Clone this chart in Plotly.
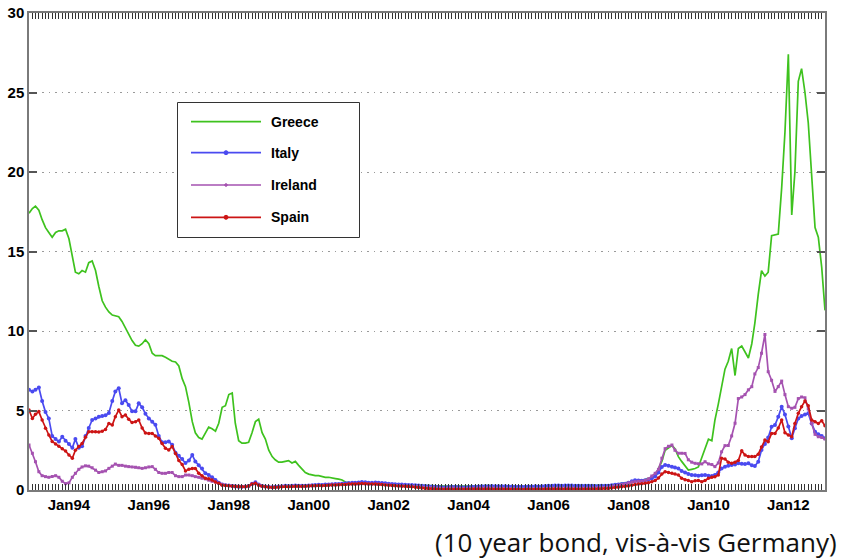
import pandas as pd
import plotly.graph_objects as go

# Monthly observations, Jan 1993 .. Dec 2012 (10y spread vs Germany, pct points)
months = pd.date_range("1993-01-01", periods=240, freq="MS")

greece = [
    17.4, 17.7, 17.85, 17.6, 17.0, 16.5, 16.2, 15.9, 16.2, 16.3, 16.3, 16.4,
    15.8, 14.8, 13.7, 13.6, 13.8, 13.7, 14.3, 14.4, 13.8, 12.8, 11.9, 11.5,
    11.2, 11.0, 10.95, 10.9, 10.6, 10.2, 9.8, 9.4, 9.1, 9.05, 9.2, 9.45,
    9.2, 8.6, 8.45, 8.45, 8.45, 8.35, 8.2, 8.1, 8.05, 7.8, 7.0, 6.5,
    5.5, 4.3, 3.6, 3.3, 3.2, 3.6, 3.95, 3.85, 3.7, 4.2, 5.2, 5.3,
    6.0, 6.1, 4.2, 3.1, 2.95, 2.95, 3.0, 3.6, 4.3, 4.45, 3.6, 3.2,
    2.5, 2.1, 1.9, 1.75, 1.75, 1.8, 1.85, 1.7, 1.8, 1.55, 1.3, 1.1,
    1.0, 0.95, 0.9, 0.9, 0.85, 0.8, 0.8, 0.78, 0.72, 0.68, 0.63, 0.5,
    0.45, 0.42, 0.4, 0.42, 0.44, 0.42, 0.4, 0.41, 0.43, 0.42, 0.4, 0.38,
    0.36, 0.35, 0.34, 0.33, 0.33, 0.32, 0.33, 0.34, 0.33, 0.31, 0.3, 0.29,
    0.27, 0.26, 0.26, 0.25, 0.24, 0.24, 0.25, 0.25, 0.24, 0.23, 0.23, 0.22,
    0.22, 0.23, 0.24, 0.25, 0.26, 0.28, 0.27, 0.27, 0.26, 0.26, 0.25, 0.25,
    0.24, 0.24, 0.23, 0.22, 0.22, 0.23, 0.24, 0.24, 0.24, 0.23, 0.24, 0.25,
    0.25, 0.26, 0.27, 0.28, 0.28, 0.28, 0.29, 0.28, 0.27, 0.27, 0.27, 0.28,
    0.28, 0.29, 0.29, 0.29, 0.3, 0.3, 0.31, 0.33, 0.36, 0.38, 0.4, 0.42,
    0.45, 0.5, 0.55, 0.6, 0.6, 0.65, 0.7, 0.8, 0.9, 1.3, 1.8, 2.5,
    2.65, 2.8, 2.6, 2.1, 1.8, 1.5, 1.25, 1.3, 1.35, 1.45, 2.0, 2.6,
    3.2, 3.1, 4.4, 5.4, 6.5, 7.6, 8.1, 8.9, 7.2, 8.9, 9.05, 8.7,
    8.3, 9.2, 10.5, 12.3, 13.8, 13.45, 13.7, 16.0, 16.05, 16.1, 19.0, 22.5,
    27.4, 17.3, 20.0, 25.7, 26.5, 25.0, 23.1, 20.0, 16.5, 15.9, 14.0, 11.3,
]

italy = [
    6.3, 6.2, 6.3, 6.45, 5.6, 4.9, 4.5, 3.4, 3.2, 3.05, 3.35, 3.1,
    2.9, 2.65, 3.2, 2.65, 2.75, 3.4, 3.9, 4.4, 4.5, 4.6, 4.65, 4.7,
    4.85, 5.6, 6.2, 6.4, 5.45, 5.65, 5.35, 4.95, 4.95, 5.45, 5.2, 4.8,
    4.5, 4.3, 4.1, 3.4, 3.0, 3.0, 3.05, 2.85, 2.35, 2.15, 1.95, 1.7,
    1.85, 2.2, 1.8, 1.55, 1.35, 1.05, 0.95, 0.8, 0.63, 0.45, 0.35, 0.3,
    0.28, 0.25, 0.22, 0.2, 0.2, 0.22, 0.25, 0.4, 0.48, 0.35, 0.25, 0.22,
    0.2, 0.18, 0.2, 0.22, 0.24, 0.26, 0.25, 0.26, 0.28, 0.27, 0.26, 0.27,
    0.28, 0.3, 0.32, 0.33, 0.32, 0.35, 0.34, 0.36, 0.37, 0.38, 0.4, 0.42,
    0.44, 0.46, 0.45, 0.47, 0.5, 0.48, 0.46, 0.45, 0.47, 0.46, 0.44, 0.42,
    0.4, 0.38, 0.36, 0.35, 0.34, 0.33, 0.32, 0.31, 0.3, 0.28, 0.26, 0.25,
    0.24, 0.22, 0.2, 0.19, 0.18, 0.18, 0.19, 0.2, 0.2, 0.19, 0.18, 0.18,
    0.19, 0.2, 0.21, 0.22, 0.23, 0.24, 0.24, 0.25, 0.24, 0.24, 0.23, 0.23,
    0.22, 0.22, 0.21, 0.2, 0.2, 0.21, 0.22, 0.22, 0.23, 0.22, 0.23, 0.25,
    0.26, 0.27, 0.28, 0.28, 0.27, 0.28, 0.29, 0.28, 0.27, 0.26, 0.27, 0.27,
    0.26, 0.26, 0.25, 0.25, 0.26, 0.26, 0.27, 0.3, 0.33, 0.35, 0.38, 0.4,
    0.45, 0.55, 0.62, 0.6, 0.58, 0.62, 0.65, 0.72, 0.85, 1.1, 1.45, 1.57,
    1.52, 1.47, 1.42, 1.35, 1.2, 1.1, 1.0, 0.94, 0.92, 0.9, 0.92, 0.94,
    0.9, 0.88, 0.95, 1.1, 1.35, 1.47, 1.52, 1.57, 1.6, 1.68, 1.65, 1.63,
    1.68, 1.55, 1.51, 1.78, 2.52, 2.9, 3.3, 3.98, 4.09, 4.6, 5.24, 4.75,
    4.0, 3.25, 3.88, 4.5, 4.65, 4.75, 4.82, 4.19, 3.67, 3.5, 3.4, 3.25,
]

ireland = [
    2.83, 2.31, 1.78, 1.15, 0.9, 0.84, 0.8, 0.85, 0.9, 0.8, 0.55, 0.4,
    0.45, 0.8, 1.05, 1.3, 1.45, 1.52, 1.5, 1.4, 1.25, 1.1, 1.15, 1.2,
    1.36, 1.5, 1.63, 1.55, 1.55, 1.5, 1.47, 1.45, 1.43, 1.4, 1.36, 1.4,
    1.45, 1.47, 1.3, 1.1, 1.05, 1.05, 1.1, 1.1, 0.9, 0.84, 0.84, 0.94,
    0.94, 0.9, 0.84, 0.8, 0.74, 0.7, 0.62, 0.55, 0.5, 0.42, 0.35, 0.3,
    0.28, 0.26, 0.25, 0.24, 0.22, 0.22, 0.24, 0.35, 0.4, 0.32, 0.25, 0.22,
    0.2, 0.18, 0.18, 0.2, 0.22, 0.23, 0.22, 0.23, 0.24, 0.24, 0.23, 0.24,
    0.25, 0.26, 0.27, 0.28, 0.28, 0.29, 0.3, 0.31, 0.32, 0.33, 0.34, 0.35,
    0.36, 0.38, 0.37, 0.38, 0.4, 0.39, 0.38, 0.37, 0.38, 0.37, 0.35, 0.33,
    0.32, 0.3, 0.28, 0.27, 0.26, 0.25, 0.24, 0.23, 0.22, 0.2, 0.18, 0.16,
    0.15, 0.13, 0.12, 0.11, 0.1, 0.1, 0.11, 0.12, 0.11, 0.1, 0.1, 0.09,
    0.09, 0.1, 0.11, 0.12, 0.12, 0.13, 0.13, 0.12, 0.12, 0.11, 0.11, 0.1,
    0.1, 0.09, 0.08, 0.08, 0.07, 0.08, 0.08, 0.09, 0.09, 0.08, 0.09, 0.1,
    0.1, 0.11, 0.12, 0.12, 0.11, 0.12, 0.13, 0.12, 0.11, 0.11, 0.12, 0.12,
    0.12, 0.13, 0.13, 0.14, 0.15, 0.16, 0.18, 0.22, 0.26, 0.3, 0.34, 0.38,
    0.45, 0.5, 0.52, 0.55, 0.55, 0.6, 0.7, 0.88, 1.05, 1.3, 2.0, 2.6,
    2.75, 2.83, 2.5, 2.31, 2.31, 2.3, 1.9, 1.75, 1.68, 1.65, 1.64, 1.78,
    1.64, 1.6, 1.47, 1.7, 2.4, 2.79, 2.8, 3.4, 4.2, 5.75, 5.85, 6.0,
    6.3, 6.5, 7.3, 7.7, 8.6, 9.78, 7.44, 6.9, 6.2, 6.5, 6.85, 6.0,
    5.24, 5.14, 5.2, 5.75, 5.85, 5.8, 5.1, 4.19, 3.5, 3.35, 3.3, 3.2,
]

spain = [
    5.03, 4.5, 4.76, 4.93, 4.4, 3.88, 3.46, 3.05, 2.9, 2.75, 2.6, 2.45,
    2.2, 2.0, 2.5, 2.73, 2.93, 3.31, 3.67, 3.67, 3.67, 3.65, 3.7, 3.81,
    4.19, 4.09, 4.61, 5.03, 4.61, 4.72, 4.45, 4.24, 4.3, 4.4, 3.9, 3.58,
    3.56, 3.56, 3.4, 3.25, 2.93, 2.62, 2.52, 2.73, 2.3, 1.85, 1.6, 1.2,
    1.3, 1.36, 1.36, 1.05, 0.9, 0.74, 0.7, 0.63, 0.5, 0.42, 0.3, 0.28,
    0.26, 0.24, 0.22, 0.2, 0.2, 0.2, 0.25, 0.38, 0.42, 0.3, 0.24, 0.2,
    0.18, 0.16, 0.17, 0.18, 0.2, 0.22, 0.21, 0.22, 0.24, 0.23, 0.22, 0.24,
    0.25, 0.26, 0.27, 0.28, 0.27, 0.29, 0.3, 0.31, 0.32, 0.33, 0.34, 0.35,
    0.37, 0.38, 0.38, 0.4, 0.41, 0.4, 0.38, 0.37, 0.38, 0.36, 0.34, 0.32,
    0.3, 0.29, 0.27, 0.25, 0.24, 0.23, 0.22, 0.2, 0.18, 0.15, 0.12, 0.1,
    0.08, 0.07, 0.06, 0.05, 0.05, 0.04, 0.05, 0.05, 0.04, 0.04, 0.05, 0.05,
    0.05, 0.06, 0.06, 0.07, 0.06, 0.06, 0.07, 0.06, 0.05, 0.05, 0.06, 0.05,
    0.04, 0.04, 0.03, 0.03, 0.03, 0.04, 0.04, 0.05, 0.05, 0.04, 0.05, 0.06,
    0.06, 0.07, 0.07, 0.06, 0.06, 0.07, 0.07, 0.06, 0.06, 0.05, 0.06, 0.06,
    0.06, 0.07, 0.07, 0.08, 0.08, 0.09, 0.1, 0.13, 0.16, 0.18, 0.2, 0.22,
    0.25, 0.3, 0.35, 0.38, 0.4, 0.42, 0.45, 0.52, 0.6, 0.75, 1.0, 1.15,
    1.1, 1.05, 1.0, 0.95, 0.74, 0.65, 0.6, 0.52, 0.58, 0.6, 0.52, 0.6,
    0.74, 0.8, 0.84, 0.95, 2.0, 1.95, 1.75, 1.68, 1.75, 1.85, 2.47, 2.2,
    2.1, 2.1, 2.1, 2.25, 2.7, 3.14, 3.04, 3.56, 3.56, 3.9, 4.4, 3.6,
    3.46, 3.35, 4.19, 4.82, 5.24, 5.6, 5.3, 4.4, 4.3, 4.19, 4.36, 4.04,
]

series_names = ["Greece", "Italy", "Ireland", "Spain"]
series_colors = ["#3ec21e", "#4a4af0", "#a552b0", "#cc1414"]
series_markers = [None, "circle", "square", "circle"]
series_msize = [0, 4, 3, 3.5]
tick_years = list(range(1994, 2013, 2))
tick_labels = ["Jan%02d" % (y % 100) for y in tick_years]
y_ticks = [0, 5, 10, 15, 20, 25, 30]
caption = "(10 year bond, vis-à-vis Germany)"

fig = go.Figure()
for name, vals, col, mk, ms in zip(series_names, [greece, italy, ireland, spain],
                                   series_colors, series_markers, series_msize):
    if mk is None:
        fig.add_trace(go.Scatter(x=months, y=vals, mode="lines", name=name,
                                 line=dict(color=col, width=1.7), showlegend=False))
    else:
        fig.add_trace(go.Scatter(x=months, y=vals, mode="lines+markers", name=name,
                                 line=dict(color=col, width=1.7),
                                 marker=dict(symbol=mk, size=ms, color=col),
                                 showlegend=False))

# invisible trace so the top (mirrored) axis with monthly ticks is drawn
fig.add_trace(go.Scatter(x=[months[0]], y=[None], xaxis="x2", yaxis="y",
                         showlegend=False, hoverinfo="skip"))

xr = ["1993-01-01", "2012-12-01"]
tickfont = dict(family="Liberation Sans, Arial, sans-serif", size=15, color="#000", weight="bold")
fig.update_layout(
    width=848, height=559,
    margin=dict(l=29, r=23, t=13, b=69, autoexpand=False),
    paper_bgcolor="white", plot_bgcolor="white",
    xaxis=dict(
        type="date", range=xr, automargin=False,
        tickvals=["%d-01-01" % y for y in tick_years], ticktext=tick_labels,
        ticks="inside", ticklen=6, tickcolor="#333", tickwidth=1,
        minor=dict(dtick="M1", ticks="inside", ticklen=6, tickcolor="#333", tickwidth=1, showgrid=False),
        showgrid=False, showline=True, linecolor="#7a7a7a", linewidth=1.5, mirror=True,
        tickfont=tickfont,
    ),
    xaxis2=dict(
        type="date", range=xr, overlaying="x", side="top", anchor="y", automargin=False,
        tickvals=["%d-01-01" % y for y in tick_years], showticklabels=False,
        ticks="inside", ticklen=6, tickcolor="#333", tickwidth=1,
        minor=dict(dtick="M1", ticks="inside", ticklen=6, tickcolor="#333", tickwidth=1, showgrid=False),
        showgrid=False, showline=False,
    ),
    yaxis=dict(
        range=[0, 30], tickvals=y_ticks, automargin=False,
        ticks="inside", ticklen=8, tickcolor="#555", tickwidth=1.5,
        showline=True, linecolor="#7a7a7a", linewidth=1.5, mirror="ticks",
        showgrid=True, gridcolor="#9a9a9a", gridwidth=1, griddash="1.5px,5px",
        zeroline=False, tickfont=tickfont,
    ),
    showlegend=False,
)

# manual legend box (MATLAB style)
def px(xp):
    return (xp - 29) / 796.0

def py(yp):
    return (490 - yp) / 477.0

shapes = [dict(type="rect", xref="paper", yref="paper",
               x0=px(177.5), x1=px(359.5), y0=py(237.5), y1=py(102.5),
               line=dict(color="#333", width=1), fillcolor="white", layer="above")]
rows = [121.7, 152.7, 185.0, 217.3]
annotations = []
for name, col, mk, yrow in zip(series_names, series_colors, series_markers, rows):
    shapes.append(dict(type="line", xref="paper", yref="paper",
                       x0=px(191), x1=px(261), y0=py(yrow), y1=py(yrow),
                       line=dict(color=col, width=1.7), layer="above"))
    if mk is not None:
        r = 2.0 if name != "Ireland" else 1.3
        shapes.append(dict(type="circle", xref="paper", yref="paper",
                           x0=px(226 - r), x1=px(226 + r), y0=py(yrow + r), y1=py(yrow - r),
                           line=dict(color=col, width=1), fillcolor=col, layer="above"))
    annotations.append(dict(xref="paper", yref="paper", x=px(269), y=py(yrow),
                            xanchor="left", yanchor="middle", showarrow=False,
                            text="<b>%s</b>" % name,
                            font=dict(family="Liberation Sans, Arial, sans-serif", size=14, color="#000")))

annotations.append(dict(xref="paper", yref="paper", x=px(839), y=py(542),
                        xanchor="right", yanchor="middle", showarrow=False,
                        text=caption,
                        font=dict(family="Open Sans, sans-serif", size=26, color="#111")))

fig.update_layout(shapes=shapes, annotations=annotations)
fig.write_html("out.html", config={"displayModeBar": False},
               post_script="document.body.style.margin='0px';document.body.style.overflow='hidden';")
